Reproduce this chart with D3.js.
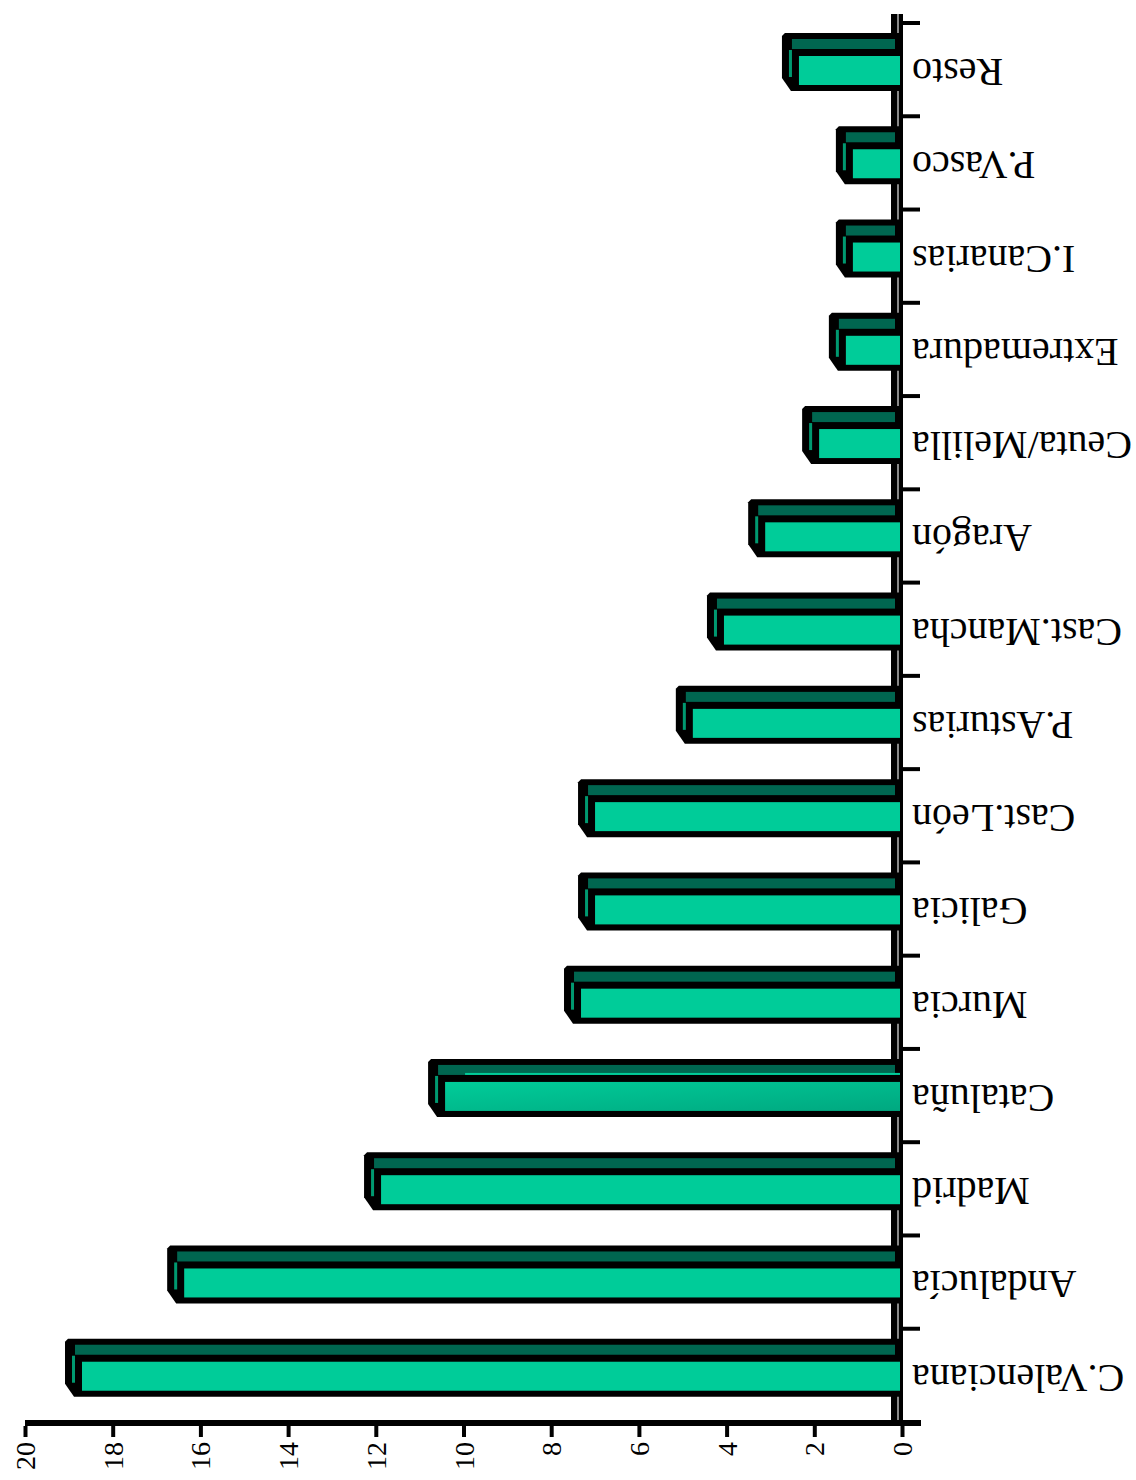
<!DOCTYPE html>
<html>
<head>
<meta charset="utf-8">
<script src="https://cdn.jsdelivr.net/npm/d3@7"></script>
<style>
  html, body { margin: 0; padding: 0; background: #ffffff; }
  svg { display: block; }
</style>
</head>
<body>
<div id="chart"></div>
<script>
// ---- data ----
const categories = ["Resto", "P.Vasco", "I.Canarias", "Extremadura", "Ceuta/Melilla", "Aragón",
  "Cast.Mancha", "P.Asturias", "Cast.León", "Galicia", "Murcia", "Cataluña", "Madrid",
  "Andalucía", "C.Valenciana"];
const values = [2.35, 1.12, 1.12, 1.28, 1.89, 3.12, 4.06, 4.77, 7.0, 7.0, 7.32, 10.42, 11.88, 16.37, 18.7];
const tickValues = [0, 2, 4, 6, 8, 10, 12, 14, 16, 18, 20];
const highlighted = ["Cataluña"];

// ---- layout ----
const W = 1136, H = 1480;
const svg = d3.select("#chart").append("svg").attr("width", W).attr("height", H);

const x = d3.scaleLinear().domain([0, 20]).range([902, 25]);
const y = d3.scaleBand().domain(categories).range([23, 1422]).padding(0);
const bw = y.bandwidth();
const x0 = x(0);

const defs = svg.append("defs");
const grad = defs.append("linearGradient").attr("id", "hl")
  .attr("x1", "0").attr("y1", "0").attr("x2", "1").attr("y2", "1");
grad.append("stop").attr("offset", "0%").attr("stop-color", "#00CC99");
grad.append("stop").attr("offset", "100%").attr("stop-color", "#00A880");

// ---- vertical (category) axis ----
svg.append("rect").attr("x", 891).attr("y", 14).attr("width", 12).attr("height", 1412).attr("fill", "#000");
svg.append("rect").attr("x", 897).attr("y", 14).attr("width", 2).attr("height", 1406).attr("fill", "#888");
const boundaries = categories.map(c => y(c)).concat([y(categories[categories.length - 1]) + bw]);
svg.append("g").selectAll("line").data(boundaries).join("line")
  .attr("x1", 903).attr("x2", 920)
  .attr("y1", d => d).attr("y2", d => d)
  .attr("stroke", "#000").attr("stroke-width", 4);

// ---- bars ----
const bars = svg.append("g").selectAll("g").data(categories).join("g");
bars.each(function(c, i) {
  const g = d3.select(this);
  const t = y(c);
  const xv = x(values[i]);
  // black silhouette
  g.append("path")
    .attr("d", `M${x0 + 1},${t + 10} H${xv - 14} L${xv - 17},${t + 13} V${t + 55} L${xv - 8},${t + 68} H${x0 + 1} Z`)
    .attr("fill", "#000");
  // dark top face
  g.append("rect").attr("x", xv - 7).attr("y", t + 16).attr("width", (x0 - 7) - (xv - 7)).attr("height", 10)
    .attr("fill", "#006650");
  if (highlighted.includes(c)) {
    g.append("rect").attr("x", xv + 20).attr("y", t + 24).attr("width", (x0 - 2) - (xv + 20)).attr("height", 2)
      .attr("fill", "#00CC99");
  }
  // left cap stripe
  g.append("rect").attr("x", xv - 10).attr("y", t + 27).attr("width", 3).attr("height", 27)
    .attr("fill", "#009970");
  // main face
  g.append("rect").attr("x", xv).attr("y", t + 33).attr("width", (x0 - 2) - xv).attr("height", 29)
    .attr("fill", highlighted.includes(c) ? "url(#hl)" : "#00CC99");
});

// ---- category labels (rotated 180) ----
svg.append("g").selectAll("text").data(categories).join("text")
  .attr("transform", c => `translate(912,${y(c) + 36}) rotate(180)`)
  .attr("text-anchor", "end")
  .attr("font-family", "'Liberation Serif', 'Times New Roman', serif")
  .attr("font-size", 40)
  .attr("fill", "#000")
  .text(c => c);

// ---- value axis (bottom) ----
const axis = d3.axisBottom(x).tickValues(tickValues).tickSize(12).tickSizeOuter(0).tickFormat(d3.format("d"));
const ax = svg.append("g").attr("transform", "translate(0,1423)").call(axis);
ax.select(".domain").remove();
ax.append("rect").attr("x", 25).attr("y", -3).attr("width", 896).attr("height", 6).attr("fill", "#000");
ax.selectAll(".tick line").attr("stroke", "#000").attr("stroke-width", 4).attr("y1", 3).attr("y2", 14);
ax.selectAll(".tick text")
  .attr("y", null).attr("dy", null).attr("x", null)
  .attr("transform", "translate(0,19) rotate(-90)")
  .attr("text-anchor", "end")
  .attr("dominant-baseline", "central")
  .attr("font-family", "'Liberation Serif', 'Times New Roman', serif")
  .attr("font-size", 28)
  .attr("fill", "#000");
</script>
</body>
</html>
